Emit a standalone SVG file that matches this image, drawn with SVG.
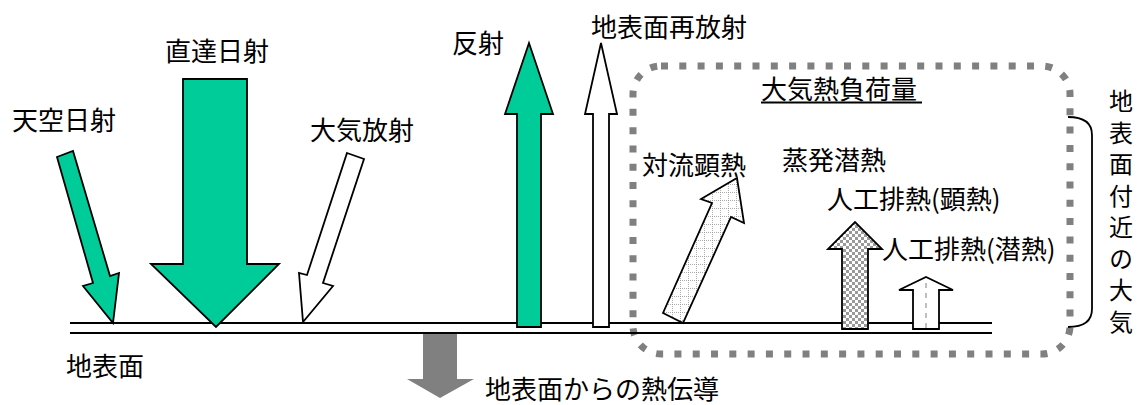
<svg xmlns="http://www.w3.org/2000/svg" width="1137" height="405" viewBox="0 0 1137 405">
<defs>
<style>
text{font-family:"Noto Sans CJK JP","Noto Sans",sans-serif;font-size:26px;fill:#000}
.arrow{stroke:#000;stroke-width:1.8;stroke-linejoin:miter}
.green{fill:#00cc99}
.white{fill:#fff}
.ground{stroke:#000;stroke-width:2.2;fill:none}
.vt{font-size:24px;writing-mode:vertical-rl;letter-spacing:7.5px}
</style>
<pattern id="dots" width="8" height="8" patternUnits="userSpaceOnUse">
<rect width="8" height="8" fill="#fff"/>
<path d="M0 0.5H8M0.5 0V8" stroke="#999" stroke-width="0.8" stroke-dasharray="1 1"/>
</pattern>
<pattern id="checks" width="6" height="6" patternUnits="userSpaceOnUse">
<rect width="6" height="6" fill="#fff"/>
<rect width="3" height="3" fill="#999"/>
<rect x="3" y="3" width="3" height="3" fill="#999"/>
</pattern>
</defs>

<g id="atmos-box">
<rect x="633" y="66" width="437" height="288" rx="28" ry="28" fill="none" stroke="#808080" stroke-width="7" stroke-dasharray="7 11.3"/>
<text x="761" y="99">大気熱負荷量</text>
<line x1="761" y1="102.5" x2="922" y2="102.5" stroke="#000" stroke-width="1.8"/>
</g>

<g id="ground">
<line class="ground" x1="70" y1="323" x2="992" y2="323"/>
<line class="ground" x1="70" y1="333" x2="992" y2="333"/>
<text x="66" y="376">地表面</text>
</g>

<g id="connectors">
<g id="sky-solar">
<polygon class="arrow green" points="57,157 73,151 110,276 119,273 113,323 83,286 93,283"/>
<text x="12" y="130">天空日射</text>
</g>
<g id="direct-solar">
<polygon class="arrow green" points="183,79 247,79 247,264 279,264 216,327 151,264 183,264"/>
<text x="165" y="61">直達日射</text>
</g>
<g id="atmos-radiation">
<polygon class="arrow white" points="347,153 364,159 323,283 333,286 303,322 299,273 307,275"/>
<text x="310" y="140">大気放射</text>
</g>
<g id="reflection">
<polygon class="arrow green" points="517,327 517,114 505,114 529,43 553,114 541,114 541,327"/>
<text x="452" y="53">反射</text>
</g>
<g id="re-emission">
<polygon class="arrow white" points="593,327 593,114 585,114 601,43 617,114 609,114 609,327"/>
<text x="591" y="37">地表面再放射</text>
</g>
<g id="conduction">
<polygon points="423,334 457,334 457,379 474,379 440,398 407,379 423,379" fill="#808080"/>
<text x="485" y="399">地表面からの熱伝導</text>
</g>
<g id="convection">
<polygon class="arrow" fill="url(#dots)" points="663,313 683,323 731,217 744,223 737,178 701,199 712,203"/>
<text x="642" y="175">対流顕熱</text>
</g>
<g id="evaporation">
<text x="782" y="170">蒸発潜熱</text>
</g>
<g id="anthro-sensible">
<polygon class="arrow" fill="url(#checks)" points="842,329 842,249 828,249 855,222 882,249 868,249 868,329"/>
<text x="827" y="209">人工排熱(顕熱)</text>
</g>
<g id="anthro-latent">
<polygon class="arrow white" points="913,329 913,290 899,290 926,277 953,290 939,290 939,329"/>
<line x1="926" y1="283" x2="926" y2="328" stroke="#aaa" stroke-width="1.5" stroke-dasharray="5 5"/>
<text x="882" y="259">人工排熱(潜熱)</text>
</g>
</g>

<g id="near-surface-atmos">
<path d="M1068,117 Q1092,117 1092,135 V309 Q1092,327 1068,327" fill="none" stroke="#000" stroke-width="1.8"/>
<text class="vt" x="1121" y="89">地表面付近の大気</text>
</g>
</svg>
